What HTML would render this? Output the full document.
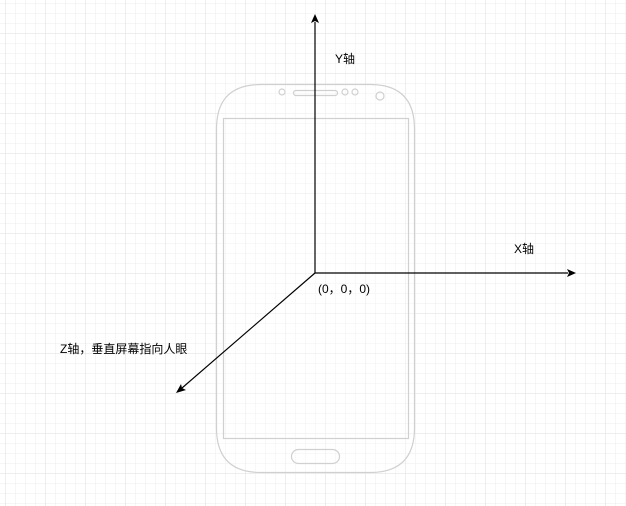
<!DOCTYPE html>
<html><head><meta charset="utf-8"><style>
html,body{margin:0;padding:0;background:#fff}
svg{display:block}
text{font-family:"Liberation Sans","Noto Sans CJK SC",sans-serif;font-size:12px;fill:#000}
</style></head><body>
<svg width="626" height="506" xmlns="http://www.w3.org/2000/svg">
<defs>
<pattern id="minor" width="10" height="10" patternUnits="userSpaceOnUse" x="5" y="3">
<path d="M0 0H10M0 0V10" stroke="#ececec" stroke-width="1" fill="none"/>
</pattern>
<pattern id="major" width="40" height="40" patternUnits="userSpaceOnUse" x="5" y="-7">
<path d="M0 0H40M0 0V40" stroke="#dedede" stroke-width="1" fill="none"/>
</pattern>
</defs>
<rect width="626" height="506" fill="url(#minor)"/>
<rect width="626" height="506" fill="url(#major)"/>
<g fill="none" stroke="#d0d0d0" stroke-width="1.2">
<path d="M216.5 129 Q216.5 84.5 261 84.5 H370 Q414.5 84.5 414.5 129 V428 Q414.5 472.5 370 472.5 H261 Q216.5 472.5 216.5 428 Z" fill="rgba(255,255,255,0.3)"/>
<rect x="223.5" y="118.5" width="185" height="320"/>
<rect x="291.5" y="449.5" width="48" height="14" rx="7"/>
<rect x="293.5" y="90.5" width="44" height="5" rx="2.5"/>
<circle cx="282" cy="92" r="3"/>
<circle cx="345" cy="92" r="3"/>
<circle cx="355" cy="92" r="3"/>
<circle cx="380" cy="96" r="4"/>
</g>
<g stroke="#000" stroke-width="1.2" fill="none">
<path d="M315 273V22"/>
<path d="M315 273H568"/>
<path d="M315 273L182 388"/>
</g>
<g fill="#000">
<path d="M315 14L311 23L315 21L319 23Z"/>
<path d="M576 273L567 269L569 273L567 277Z"/>
<path d="M176 393L181 384L182 388L186 390Z"/>
</g>
<text x="335" y="63">Y轴</text>
<text x="514" y="253">X轴</text>
<text x="318" y="293">(0，0，0)</text>
<text x="60" y="353">Z轴，垂直屏幕指向人眼</text>
</svg>
</body></html>
